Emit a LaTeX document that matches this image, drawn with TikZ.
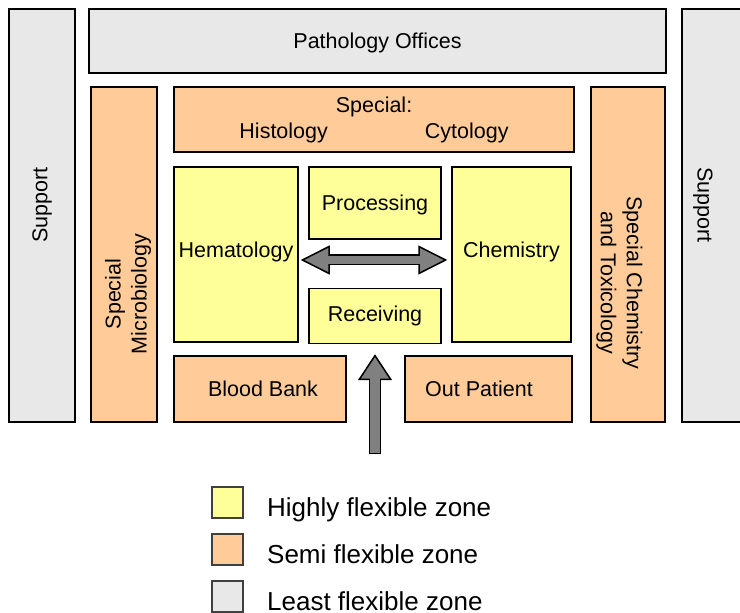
\documentclass[tikz,border=0pt]{standalone}
\usepackage{fontspec}
\setmainfont{Liberation Sans}
\usetikzlibrary{
  positioning,
  arrows.meta,
  calc
}

\definecolor{highflex}{HTML}{FFFF99}
\definecolor{semiflex}{HTML}{FFCC99}
\definecolor{leastflex}{HTML}{E8E8E8}
\definecolor{arrowgray}{HTML}{808080}
\definecolor{legendline}{HTML}{404040}

\begin{document}
\begin{tikzpicture}[
  x=1pt, y=1pt,
  every node/.style={font=\fontsize{21.5}{26}\selectfont},
  zone/.style={draw=black, line width=1.5pt, inner sep=2pt},
  high/.style={zone, fill=highflex},
  semi/.style={zone, fill=semiflex},
  least/.style={zone, fill=leastflex},
  legbox/.style={draw=legendline, line width=1.5pt, minimum size=31pt, inner sep=0pt, outer sep=0pt},
  legtext/.style={font=\fontsize{26}{30}\selectfont, inner sep=0pt},
  hfat/.style={draw=arrowgray, line width=8pt,
    {Triangle[length=29pt,width=29pt,fill=arrowgray,color=black,line width=1.5pt]}-{Triangle[length=29pt,width=29pt,fill=arrowgray,color=black,line width=1.5pt]},
    preaction={draw=black, -, line width=11pt, shorten <=18pt, shorten >=18pt},
    postaction={draw=arrowgray, -, line width=8pt, shorten <=24pt, shorten >=24pt}},
  vfat/.style={draw=arrowgray, line width=9.5pt,
    -{Triangle[length=26pt,width=34pt,fill=arrowgray,color=black,line width=1.5pt]},
    preaction={draw=black, -, line width=12.5pt, shorten <=-1.5pt, shorten >=15pt},
    postaction={draw=arrowgray, -, line width=9.5pt, shorten >=21pt}}
]
\useasboundingbox (0,0) rectangle (740,613);

% Outer ring
\node[least, rotate=90, minimum width=413pt, minimum height=66pt] (supl) at (42,397.5) {\hspace*{21pt}Support};
\node[least, rotate=-90, minimum width=413pt, minimum height=66pt] (supr) at (715,397.5) {\raisebox{-12pt}[\height][\depth]{Support}\hspace*{21pt}};
\node[least, text depth=0pt, minimum width=577pt, minimum height=64pt] (offices) at (377.5,572) {Pathology Offices};

% Semi flexible ring
\node[semi, rotate=90, minimum width=335pt, minimum height=66pt] (micro) at (124,358.5)
  {\raisebox{-4.5pt}[\height][\depth]{\begin{tabular}{@{}c@{}}Special\\Microbiology\end{tabular}}\hspace*{79pt}};
\node[semi, rotate=-90, minimum width=335pt, minimum height=74pt] (toxic) at (628,358.5)
  {\hspace*{57pt}\raisebox{-9pt}[\height][\depth]{\begin{tabular}{@{}c@{}}Special Chemistry\\and Toxicology\end{tabular}}};
\node[semi, align=center, minimum width=400pt, minimum height=65pt] (special) at (374,493.5)
  {Special:\\Histology\hspace{97pt}Cytology};
\node[semi, minimum width=172pt, minimum height=66pt] (blood) at (260,224) {\hspace*{6pt}Blood Bank};
\node[semi, minimum width=167pt, minimum height=66pt] (outp) at (488.5,224) {Out Patient\hspace*{19pt}};

% Core
\node[high, text depth=10pt, minimum width=124pt, minimum height=175pt] (hema) at (236,358.5) {Hematology};
\node[high, text depth=0pt, minimum width=132pt, minimum height=72pt] (proc) at (375,410) {Processing};
\node[high, minimum width=132pt, minimum height=55pt, below=48pt of proc] (recv) {Receiving};
\node[high, text depth=10pt, minimum width=119pt, minimum height=175pt] (chem) at (511.5,358.5) {Chemistry};

% Arrows
\coordinate (entry) at (375,160);
\draw[hfat] ($(hema.east)+(2,-5.5)$) -- ($(chem.west)+(-4,-5.5)$);
\draw[vfat] (entry) -- ($(recv.south)+(0,-10)$);

% Legend
\node[legbox, fill=highflex] (lhigh) at (227.5,110.5) {};
\node[legbox, fill=semiflex, below=16pt of lhigh] (lsemi) {};
\node[legbox, fill=leastflex, below=16pt of lsemi] (lleast) {};
\node[legtext, right=24pt of lhigh, anchor=base west, yshift=-14pt] (thigh) {Highly flexible zone};
\node[legtext, right=24pt of lsemi, anchor=base west, yshift=-14pt] (tsemi) {Semi flexible zone};
\node[legtext, right=24pt of lleast, anchor=base west, yshift=-14pt] (tleast) {Least flexible zone};

\end{tikzpicture}
\end{document}
